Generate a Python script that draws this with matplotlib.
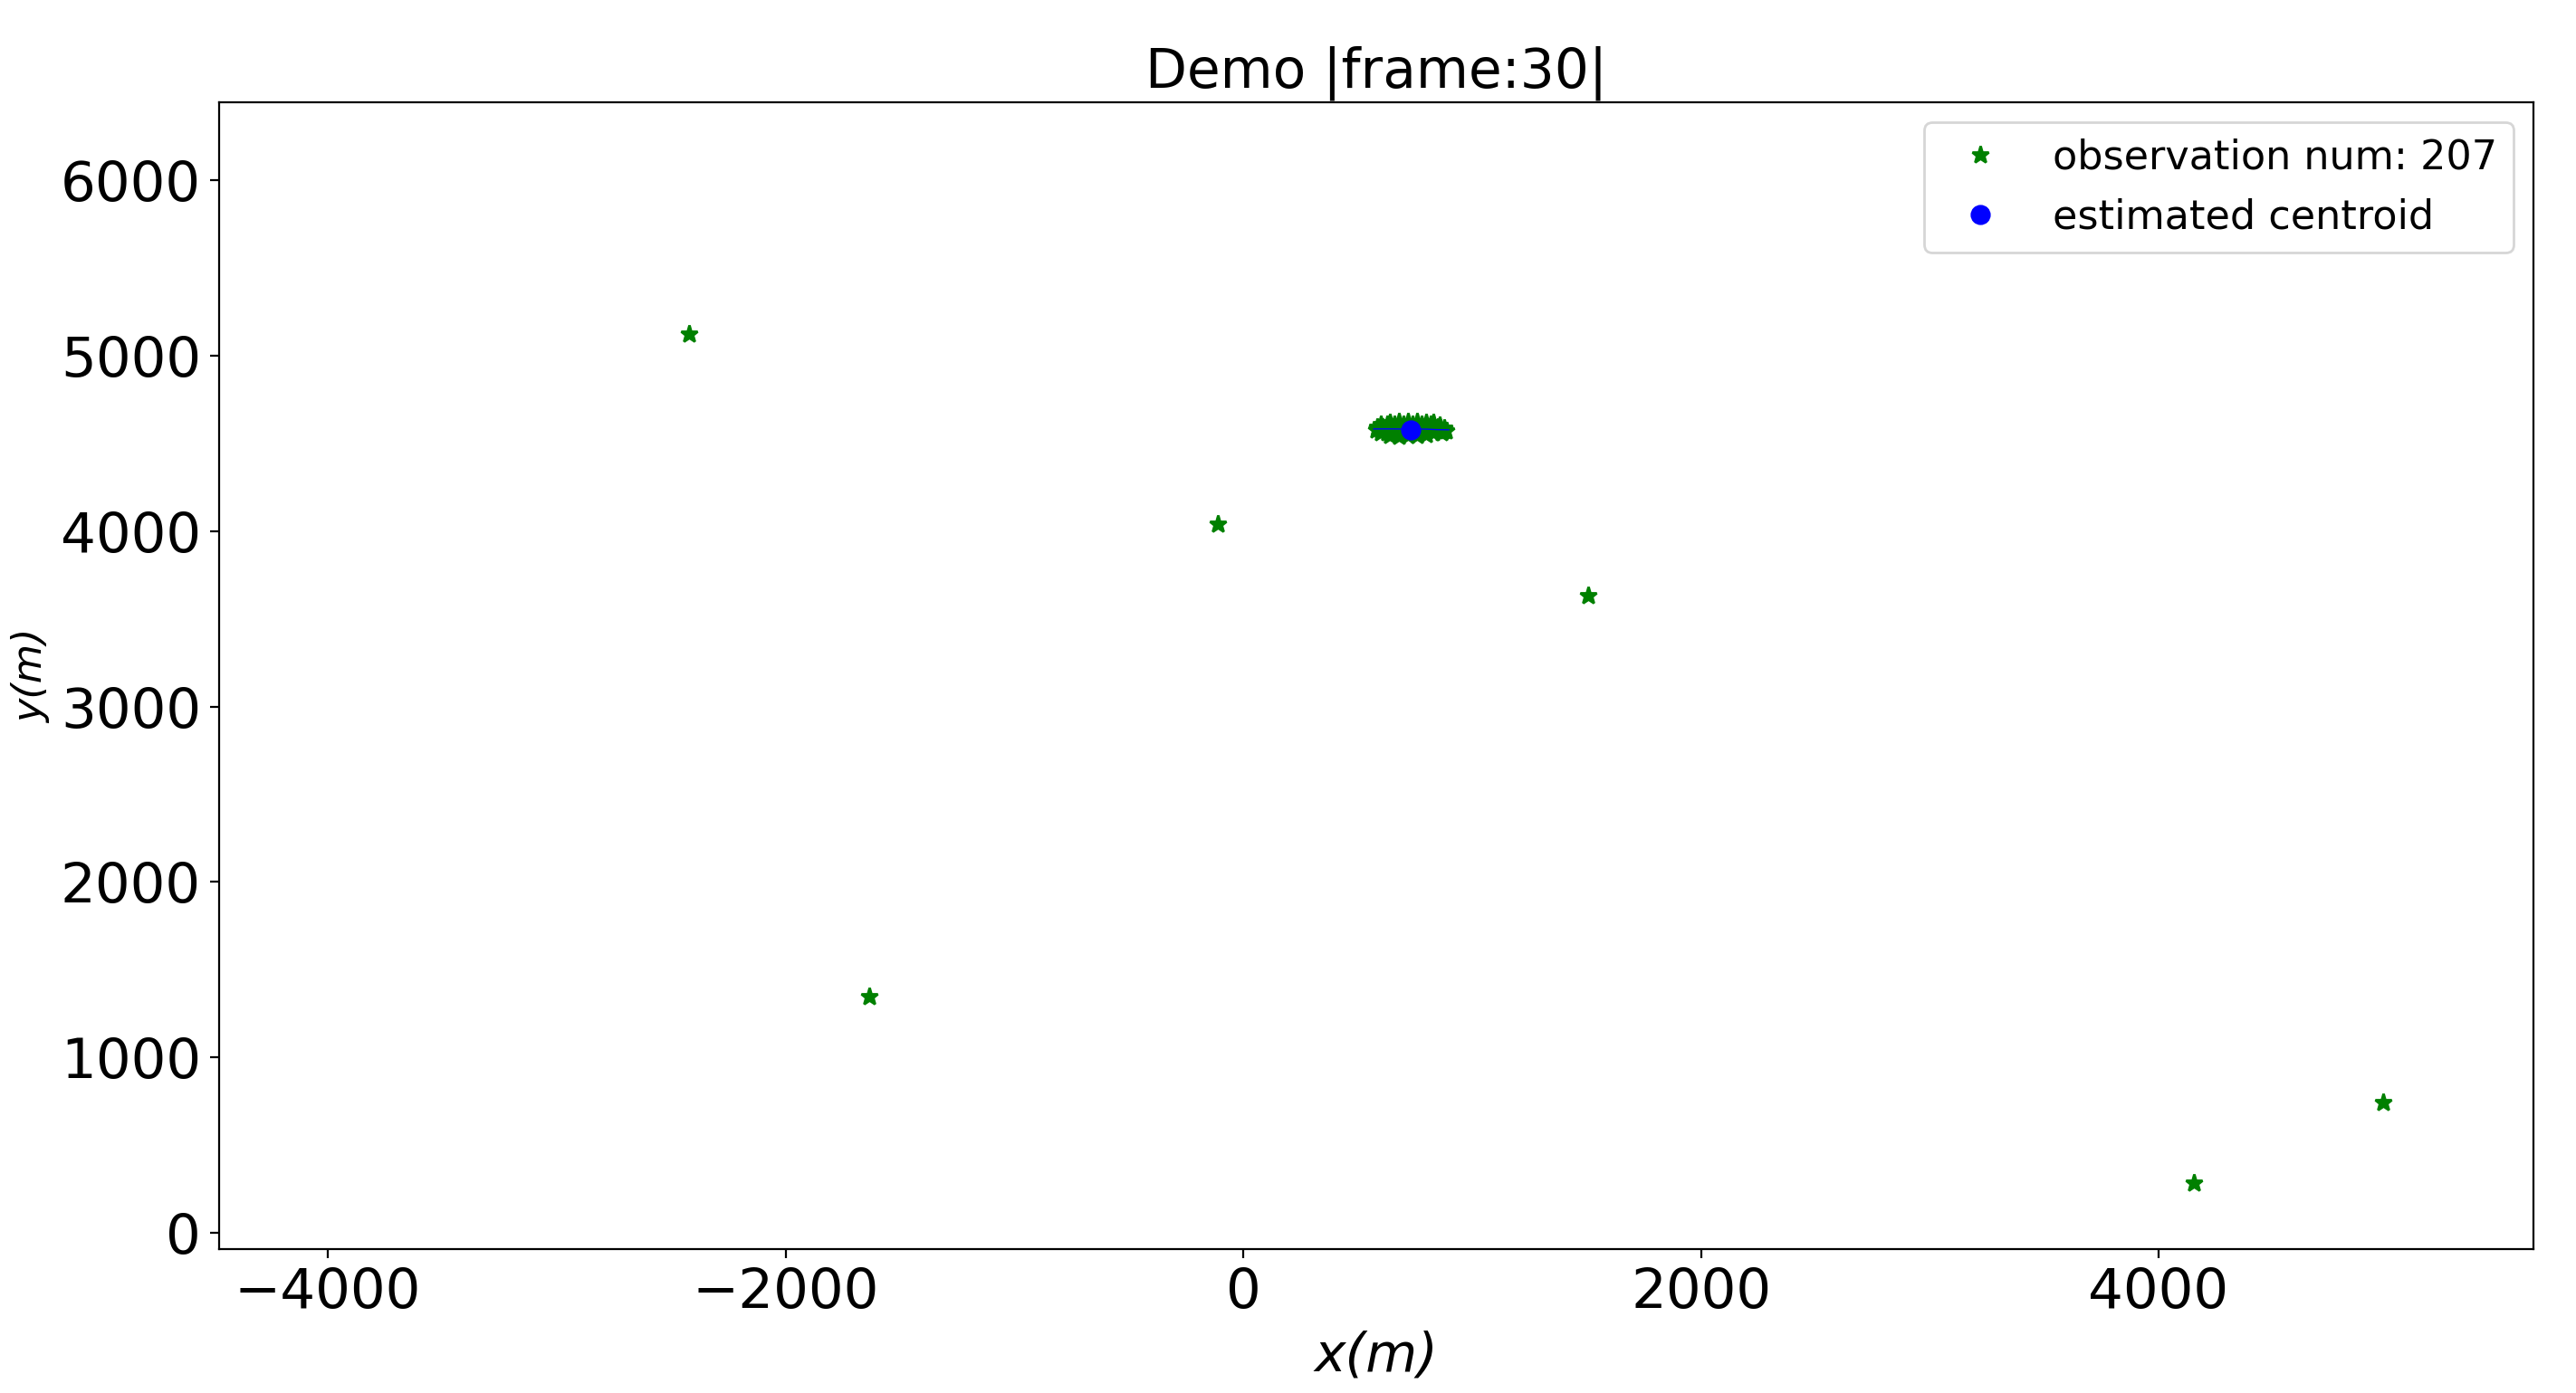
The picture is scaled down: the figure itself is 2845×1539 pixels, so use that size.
import matplotlib
matplotlib.use("Agg")
import matplotlib.pyplot as plt

# ── Data ────────────────────────────────────────────────────
# scattered outlier observations
obs_x_outliers = [-2421, -113, 1507, -1634, 4981, 4154]
obs_y_outliers = [5123, 4040, 3630, 1346, 743, 284]

# dense observation cluster around the target
cluster_x = [640, 680, 720, 760, 800, 830,
             600, 630, 660, 700, 740, 780, 820, 860,
             585, 610, 650, 690, 730, 770, 810, 850, 880,
             582, 600, 640, 680, 720, 760, 800, 840, 875, 886,
             600, 630, 670, 710, 750, 790, 830, 865,
             640, 680, 720, 760, 800]
cluster_y = [4620, 4622, 4623, 4622, 4620, 4616,
             4605, 4607, 4608, 4608, 4608, 4607, 4606, 4603,
             4590, 4591, 4592, 4592, 4592, 4591, 4590, 4590, 4588,
             4575, 4575, 4576, 4576, 4576, 4576, 4575, 4574, 4573, 4572,
             4560, 4559, 4558, 4559, 4560, 4561, 4561, 4562,
             4544, 4542, 4545, 4547, 4549]

# centroid track and current estimate
track_x = [570, 650, 732, 800, 847, 898]
track_y = [4582, 4582, 4581, 4581, 4578, 4577]
centroid_x = 732
centroid_y = 4577

n_obs = 207
frame = 30


def main():
    fig = plt.figure(figsize=(2845 / 200, 1539 / 200), dpi=200)
    ax = fig.add_axes([0.0849, 0.1033, 0.8986, 0.8233])

    ax.plot(obs_x_outliers + cluster_x, obs_y_outliers + cluster_y,
            "*", color="green", markersize=7, linestyle="none",
            label=f"observation num: {n_obs}")
    ax.plot(track_x, track_y, "b-", linewidth=0.5)
    ax.plot(centroid_x, centroid_y, "o", color="blue", markersize=7,
            linestyle="none", label="estimated centroid")

    ax.set_xlim(-4477, 5638)
    ax.set_ylim(-93, 6444)
    ax.set_xticks([-4000, -2000, 0, 2000, 4000])
    ax.set_yticks([0, 1000, 2000, 3000, 4000, 5000, 6000])
    ax.tick_params(labelsize=22)

    ax.set_xlabel("x(m)", fontsize=21, fontstyle="italic")
    ax.set_ylabel("y(m)", fontsize=16, fontstyle="italic")
    ax.set_title(f"Demo |frame:{frame}|", fontsize=21.5)
    ax.legend(loc="upper right", fontsize=16)

    fig.savefig("out.png", dpi=200)


if __name__ == "__main__":
    main()
